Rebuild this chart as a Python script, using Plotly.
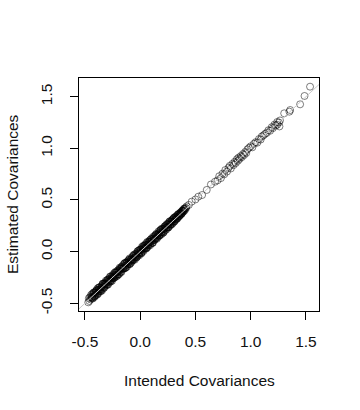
import plotly.graph_objects as go

# Dense band of estimated vs intended covariances
dense_x = [-0.470,-0.465,-0.460,-0.455,-0.450,-0.445,-0.440,-0.435,-0.430,-0.425,-0.420,-0.415,-0.410,-0.405,-0.400,-0.395,-0.390,-0.385,-0.380,-0.375,
           -0.370,-0.365,-0.360,-0.355,-0.350,-0.345,-0.340,-0.335,-0.330,-0.325,-0.320,-0.315,-0.310,-0.305,-0.300,-0.295,-0.290,-0.285,-0.280,-0.275,
           -0.270,-0.265,-0.260,-0.255,-0.250,-0.245,-0.240,-0.235,-0.230,-0.225,-0.220,-0.215,-0.210,-0.205,-0.200,-0.195,-0.190,-0.185,-0.180,-0.175,
           -0.170,-0.165,-0.160,-0.155,-0.150,-0.145,-0.140,-0.135,-0.130,-0.125,-0.120,-0.115,-0.110,-0.105,-0.100,-0.095,-0.090,-0.085,-0.080,-0.075,
           -0.070,-0.065,-0.060,-0.055,-0.050,-0.045,-0.040,-0.035,-0.030,-0.025,-0.020,-0.015,-0.010,-0.005,0.000,0.005,0.010,0.015,0.020,0.025,
           0.030,0.035,0.040,0.045,0.050,0.055,0.060,0.065,0.070,0.075,0.080,0.085,0.090,0.095,0.100,0.105,0.110,0.115,0.120,0.125,
           0.130,0.135,0.140,0.145,0.150,0.155,0.160,0.165,0.170,0.175,0.180,0.185,0.190,0.195,0.200,0.205,0.210,0.215,0.220,0.225,
           0.230,0.235,0.240,0.245,0.250,0.255,0.260,0.265,0.270,0.275,0.280,0.285,0.290,0.295,0.300,0.305,0.310,0.315,0.320,0.325,
           0.330,0.335,0.340,0.345,0.350,0.355,0.360,0.365,0.370,0.375,0.380,0.385,0.390,0.395,0.400,0.405,0.410,0.415,0.420]
dense_y = [-0.491,-0.452,-0.478,-0.441,-0.462,-0.420,-0.447,-0.410,-0.455,-0.418,-0.433,-0.395,-0.432,-0.393,-0.418,-0.370,-0.396,-0.355,-0.406,-0.367,
           -0.383,-0.345,-0.382,-0.352,-0.334,-0.375,-0.313,-0.344,-0.316,-0.349,-0.301,-0.317,-0.281,-0.320,-0.289,-0.322,-0.268,-0.289,-0.263,-0.295,
           -0.240,-0.276,-0.254,-0.283,-0.226,-0.252,-0.227,-0.254,-0.203,-0.226,-0.204,-0.240,-0.201,-0.219,-0.179,-0.218,-0.186,-0.155,-0.197,-0.163,
           -0.198,-0.146,-0.168,-0.130,-0.162,-0.139,-0.161,-0.107,-0.133,-0.110,-0.146,-0.093,-0.120,-0.097,-0.119,-0.065,-0.096,-0.072,-0.104,-0.057,
           -0.072,-0.039,-0.076,-0.045,-0.079,-0.024,-0.047,-0.021,-0.050,0.003,-0.031,-0.010,-0.037,0.018,-0.004,0.021,-0.011,0.044,0.011,0.037,
           0.005,0.054,0.039,0.070,0.036,0.062,0.038,0.095,0.065,0.092,0.062,0.096,0.062,0.117,0.097,0.119,0.086,0.142,0.112,0.131,
           0.111,0.159,0.128,0.164,0.124,0.164,0.155,0.195,0.154,0.188,0.159,0.206,0.188,0.223,0.190,0.221,0.183,0.219,0.243,0.210,
           0.240,0.212,0.266,0.238,0.268,0.236,0.272,0.264,0.295,0.262,0.288,0.263,0.310,0.289,0.314,0.288,0.332,0.312,0.339,0.313,
           0.345,0.326,0.357,0.334,0.364,0.349,0.375,0.356,0.383,0.369,0.393,0.381,0.400,0.390,0.412,0.403,0.424,0.420,0.438]

# Further points inside the dense band
dense2_x = [-0.435,-0.425,-0.415,-0.405,-0.395,-0.385,-0.375,-0.365,-0.355,-0.345,-0.335,-0.325,-0.315,-0.305,-0.295,-0.285,-0.275,-0.265,-0.255,-0.245,
            -0.235,-0.225,-0.215,-0.205,-0.195,-0.185,-0.175,-0.165,-0.155,-0.145,-0.135,-0.125,-0.115,-0.105,-0.095,-0.085,-0.075,-0.065,-0.055,-0.045,
            -0.035,-0.025,-0.015,-0.005,0.005,0.015,0.025,0.035,0.045,0.055,0.065,0.075,0.085,0.095,0.105,0.115,0.125,0.135,0.145,0.155,
            0.165,0.175,0.185,0.195,0.205,0.215,0.225,0.235,0.245,0.255,0.265,0.275,0.285,0.295,0.305,0.315,0.325,0.335,0.345,0.355,
            0.365,0.375,0.385,0.395]
dense2_y = [-0.445,-0.403,-0.440,-0.400,-0.378,-0.403,-0.347,-0.369,-0.384,-0.334,-0.311,-0.338,-0.313,-0.326,-0.276,-0.292,-0.245,-0.289,-0.247,-0.260,
            -0.209,-0.236,-0.201,-0.232,-0.192,-0.164,-0.195,-0.156,-0.161,-0.116,-0.158,-0.109,-0.127,-0.082,-0.123,-0.081,-0.089,-0.084,-0.028,-0.053,
            -0.060,-0.012,0.010,-0.021,0.011,-0.007,0.055,0.025,0.062,0.029,0.073,0.071,0.109,0.077,0.106,0.086,0.145,0.126,0.173,0.134,
            0.176,0.161,0.211,0.170,0.210,0.198,0.247,0.229,0.261,0.232,0.292,0.264,0.298,0.275,0.326,0.301,0.335,0.319,0.363,0.345,
            0.377,0.367,0.396,0.415]

dense3_x = [-0.440,-0.430,-0.420,-0.410,-0.400,-0.390,-0.380,-0.370,-0.360,-0.350,-0.340,-0.330,-0.320,-0.310,-0.300,-0.290,-0.280,-0.270,-0.260,-0.250,
            -0.240,-0.230,-0.220,-0.210,-0.200,-0.190,-0.180,-0.170,-0.160,-0.150,-0.140,-0.130,-0.120,-0.110,-0.100,-0.090,-0.080,-0.070,-0.060,-0.050,
            -0.040,-0.030,-0.020,-0.010,0.000,0.010,0.020,0.030,0.040,0.050,0.060,0.070,0.080,0.090,0.100,0.110,0.120,0.130,0.140,0.150,
            0.160,0.170,0.180,0.190,0.200,0.210,0.220,0.230,0.240,0.250,0.260,0.270,0.280,0.290,0.300,0.310,0.320,0.330,0.340,0.350,
            0.360,0.370,0.380,0.390,0.400]
dense3_y = [-0.436,-0.450,-0.394,-0.422,-0.382,-0.418,-0.371,-0.349,-0.365,-0.367,-0.311,-0.353,-0.306,-0.311,-0.276,-0.316,-0.273,-0.281,-0.241,-0.258,
            -0.237,-0.249,-0.193,-0.223,-0.183,-0.217,-0.170,-0.148,-0.164,-0.166,-0.112,-0.154,-0.105,-0.112,-0.077,-0.115,-0.074,-0.080,-0.040,-0.059,
            -0.035,-0.051,0.005,-0.021,0.019,-0.019,0.028,0.050,0.034,0.032,0.087,0.048,0.093,0.090,0.125,0.083,0.128,0.118,0.158,0.143,
            0.164,0.150,0.206,0.178,0.218,0.186,0.229,0.251,0.235,0.233,0.282,0.251,0.294,0.289,0.320,0.292,0.327,0.319,0.356,0.342,
            0.365,0.364,0.397,0.393,0.416]

# Sparse upper points
sparse_x = [0.440,0.466,0.500,0.526,0.560,0.602,0.640,0.677,0.700,0.715,0.730,0.745,0.760,0.770,0.785,0.800,0.810,0.820,0.835,0.845,
            0.855,0.865,0.875,0.885,0.890,0.900,0.910,0.920,0.930,0.940,0.950,0.960,0.970,0.985,1.000,1.015,1.030,1.045,1.060,1.075,
            1.090,1.100,1.115,1.130,1.145,1.160,1.175,1.190,1.200,1.215,1.225,1.240,1.255,1.265,1.240,1.260,1.303,1.350,1.357,1.447,
            1.487,1.537]
sparse_y = [0.452,0.484,0.505,0.532,0.548,0.597,0.650,0.677,0.690,0.730,0.712,0.755,0.748,0.790,0.775,0.812,0.830,0.805,0.850,0.838,
            0.870,0.858,0.895,0.880,0.910,0.898,0.925,0.915,0.945,0.935,0.965,0.955,0.990,1.005,1.020,1.010,1.045,1.060,1.055,1.090,
            1.085,1.115,1.125,1.140,1.150,1.175,1.170,1.205,1.195,1.230,1.220,1.255,1.250,1.270,1.228,1.212,1.339,1.355,1.371,1.426,
            1.507,1.597]

# Reference line y = x
ref_line = [-1.0, 2.0]

x_ticks = [-0.5, 0.0, 0.5, 1.0, 1.5]
x_tick_labels = ["-0.5", "0.0", "0.5", "1.0", "1.5"]
y_ticks = [-0.5, 0.0, 0.5, 1.0, 1.5]
y_tick_labels = ["-0.5", "0.0", "0.5", "1.0", "1.5"]

all_x = dense_x + dense2_x + dense3_x + sparse_x
all_y = dense_y + dense2_y + dense3_y + sparse_y

FONT = "Liberation Sans, Arial, sans-serif"

fig = go.Figure()
fig.add_trace(go.Scatter(
    x=all_x, y=all_y, mode="markers",
    marker=dict(symbol="circle-open", size=7, color="rgba(0,0,0,0.5)", line=dict(width=1)),
    hoverinfo="skip", showlegend=False))
fig.add_trace(go.Scatter(
    x=ref_line, y=ref_line, mode="lines",
    line=dict(color="#c8c8c8", width=1), hoverinfo="skip", showlegend=False))

axis_common = dict(
    showgrid=False, zeroline=False, showline=True, mirror=True, linecolor="black", linewidth=1,
    ticks="outside", ticklen=8, tickcolor="black", tickwidth=1,
    tickfont=dict(family=FONT, size=15.5, color="#111"),
)
fig.update_xaxes(range=[-0.554, 1.618], tickvals=x_ticks, ticktext=x_tick_labels,
                 ticklabelstandoff=8, **axis_common)
fig.update_yaxes(range=[-0.575, 1.681], tickvals=y_ticks, ticktext=y_tick_labels, tickangle=-90,
                 ticklabelstandoff=12, **axis_common)

fig.add_annotation(text="Intended Covariances", xref="paper", yref="paper", x=0.5, y=0,
                   yshift=-69, xanchor="center", yanchor="middle", showarrow=False,
                   font=dict(family=FONT, size=15.5, color="#111"))
fig.add_annotation(text="Estimated Covariances", xref="paper", yref="paper", x=0, y=0.5,
                   xshift=-66.5, xanchor="center", yanchor="middle", textangle=-90, showarrow=False,
                   font=dict(family=FONT, size=15.5, color="#111"))

fig.update_layout(
    width=360, height=410, margin=dict(l=79, r=41, t=78, b=99, autoexpand=False),
    paper_bgcolor="white", plot_bgcolor="white",
    font=dict(family=FONT, size=15.5, color="#111"),
)
fig.write_html("out.html")
